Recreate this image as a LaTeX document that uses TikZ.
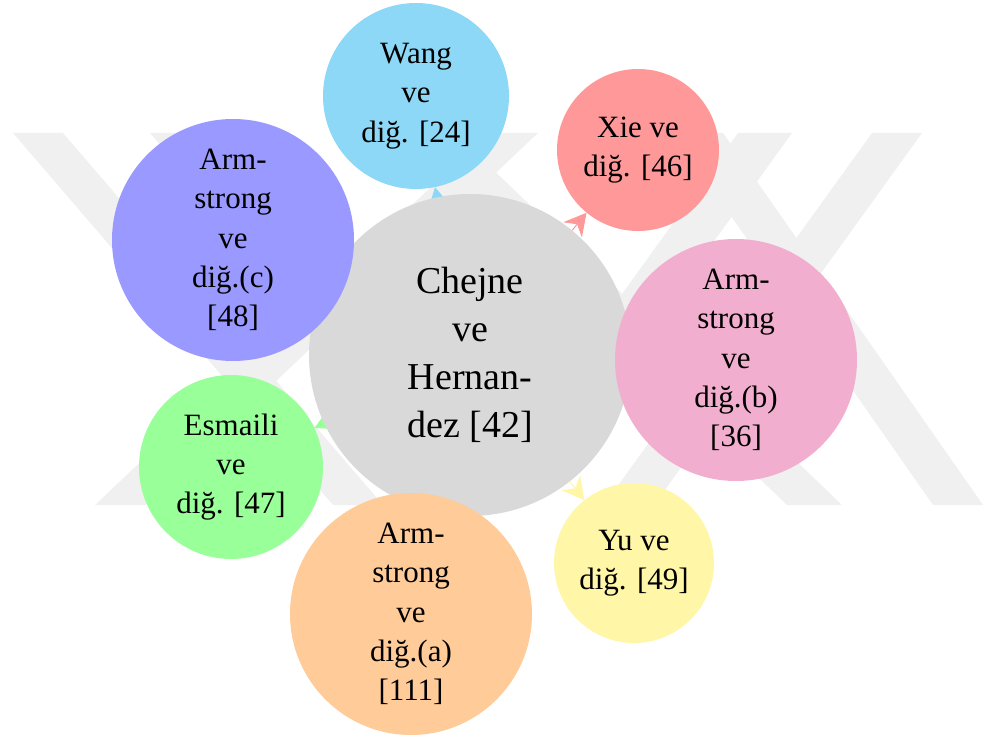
\documentclass[tikz,border=0pt]{standalone}
\usepackage{fontspec}
\setmainfont{Liberation Serif}
\usetikzlibrary{arrows.meta}

\definecolor{skyfill}{RGB}{140,216,246}
\definecolor{rosefill}{RGB}{255,153,153}
\definecolor{violetfill}{RGB}{153,153,255}
\definecolor{pinkfill}{RGB}{242,174,206}
\definecolor{mintfill}{RGB}{153,255,153}
\definecolor{peachfill}{RGB}{255,204,153}
\definecolor{lemonfill}{RGB}{255,246,168}
\definecolor{hubfill}{RGB}{217,217,217}
\definecolor{wmgray}{RGB}{240,240,240}

\pgfdeclarelayer{wm}
\pgfdeclarelayer{links}
\pgfdeclarelayer{hublayer}
\pgfsetlayers{wm,links,hublayer,main}

\tikzset{
  hub/.style={circle, fill=hubfill, inner sep=0pt, minimum size=322pt,
    align=center, font=\fontsize{38}{48}\selectfont},
  sat/.style={circle, inner sep=0pt, align=center,
    font=\fontsize{31}{39.3}\selectfont},
  link/.style={-{Stealth[length=22pt,width=24pt]}, line width=1pt},
  wmstroke/.style={fill=wmgray},
}

\begin{document}
\begin{tikzpicture}[x=1pt,y=-1pt]
\useasboundingbox (0,0) rectangle (983,735);

\begin{pgfonlayer}{wm}
  % faint background emblem
  \fill[wmstroke] (13,133) -- (63,133) -- (383,505) -- (333,505) -- cycle;
  \fill[wmstroke] (150,133) -- (200,133) -- (520,505) -- (470,505) -- cycle;
  \fill[wmstroke] (488,133) -- (538,133) -- (145,505) -- (95,505) -- cycle;
  \fill[wmstroke] (400,133) -- (455,133) -- (842,505) -- (787,505) -- cycle;
  \fill[wmstroke] (738,133) -- (792,133) -- (524,505) -- (470,505) -- cycle;
  \fill[wmstroke] (872,133) -- (922,133) -- (654,505) -- (604,505) -- cycle;
  \fill[wmstroke] (673,133) -- (723,133) -- (983,505) -- (933,505) -- cycle;
\end{pgfonlayer}

\begin{pgfonlayer}{hublayer}
  % central circle
  \node[hub] (hub) at (470,355) {Chejne\\ve\\Hernan-\\dez [42]};
\end{pgfonlayer}

% satellites
\node[sat, fill=skyfill,    minimum size=186pt] (wang) at (416,96)  {Wang\\ve\\diğ. [24]};
\node[sat, fill=rosefill,   minimum size=162pt] (xie)  at (638,150) {Xie ve\\diğ. [46]};
\node[sat, fill=violetfill, minimum size=242pt] (armc) at (233,240) {Arm-\\strong\\ve\\diğ.(c)\\[0pt][48]};
\node[sat, fill=pinkfill,   minimum size=242pt] (armb) at (736,360) {Arm-\\strong\\ve\\diğ.(b)\\[0pt][36]};
\node[sat, fill=mintfill,   minimum size=184pt] (esm)  at (231,467) {Esmaili\\ve\\diğ. [47]};
\node[sat, fill=peachfill,  minimum size=242pt] (arma) at (411,614) {Arm-\\strong\\ve\\diğ.(a)\\[0pt][111]};
\node[sat, fill=lemonfill,  minimum size=160pt] (yu)   at (634,563) {Yu ve\\diğ. [49]};

% links from the central circle, lying beneath every circle
\begin{pgfonlayer}{links}
  \draw[link, skyfill]    (hub) -- (wang);
  \draw[link, rosefill]   (hub) -- (xie);
  \draw[link, violetfill] (hub) -- (armc);
  \draw[link, pinkfill]   (hub) -- (armb);
  \draw[link, mintfill]   (hub) -- (esm);
  \draw[link, peachfill]  (hub) -- (arma);
  \draw[link, lemonfill]  (hub) -- (yu);
\end{pgfonlayer}
\end{tikzpicture}
\end{document}
